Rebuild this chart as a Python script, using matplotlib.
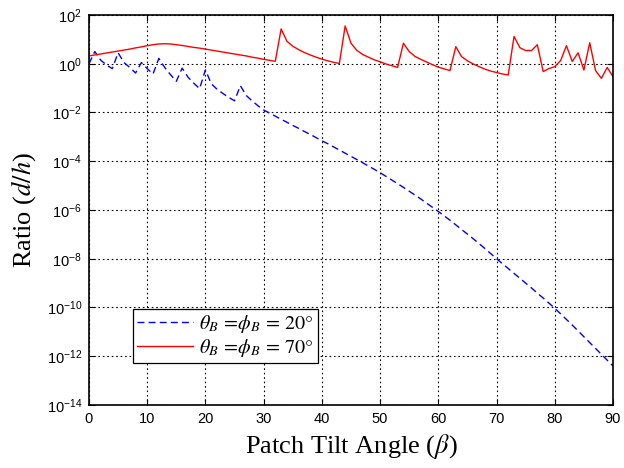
import numpy as np
import matplotlib
matplotlib.use("Agg")
import matplotlib.pyplot as plt
from matplotlib.ticker import FixedLocator, NullLocator, LogFormatterSciNotation

plt.rcParams["font.family"] = ["Liberation Sans", "DejaVu Sans"]
plt.rcParams["mathtext.fontset"] = "stix"

# Patch tilt angle in degrees
beta = list(range(0, 91))

# log10 of the ratio d/h, theta_B = phi_B = 20 deg
log_ratio_20 = [
    0.00, 0.50, 0.15, -0.05, -0.20, 0.45, 0.05, -0.15, -0.38, 0.05,
    -0.20, -0.42, 0.22, -0.15, -0.45, -0.72, -0.18, -0.55, -0.80, -1.02,
    -0.25, -0.82, -1.05, -1.22, -1.38, -1.52, -0.90, -1.30, -1.52, -1.72,
    -1.90, -2.02, -2.15, -2.28, -2.40, -2.53, -2.65, -2.78, -2.90, -3.03,
    -3.16, -3.28, -3.41, -3.54, -3.67, -3.80, -3.93, -4.06, -4.20, -4.33,
    -4.47, -4.62, -4.77, -4.92, -5.07, -5.23, -5.39, -5.55, -5.72, -5.89,
    -6.06, -6.24, -6.42, -6.61, -6.80, -6.99, -7.18, -7.38, -7.58, -7.79,
    -8.00, -8.20, -8.40, -8.60, -8.80, -9.00, -9.20, -9.41, -9.61, -9.82,
    -10.03, -10.26, -10.49, -10.72, -10.96, -11.20, -11.44, -11.68, -11.92, -12.16,
    -12.40,
]

# log10 of the ratio d/h, theta_B = phi_B = 70 deg
log_ratio_70 = [
    0.32, 0.36, 0.40, 0.44, 0.48, 0.52, 0.56, 0.60, 0.65, 0.69,
    0.74, 0.78, 0.81, 0.82, 0.81, 0.78, 0.75, 0.71, 0.67, 0.64,
    0.60, 0.56, 0.52, 0.48, 0.44, 0.40, 0.36, 0.32, 0.27, 0.23,
    0.18, 0.14, 0.10, 1.43, 0.92, 0.72, 0.58, 0.46, 0.36, 0.27,
    0.19, 0.12, 0.06, 0.01, 1.55, 0.84, 0.55, 0.38, 0.27, 0.16,
    0.08, -0.01, -0.08, -0.15, 0.84, 0.50, 0.30, 0.18, 0.07, -0.04,
    -0.14, -0.21, -0.28, 0.70, 0.29, 0.12, -0.01, -0.12, -0.22, -0.30,
    -0.36, -0.42, -0.46, 1.12, 0.66, 0.54, 0.54, 0.78, -0.32, -0.20,
    -0.12, 0.13, 0.74, 0.09, 0.45, -0.26, 0.86, -0.28, -0.60, -0.15,
    -0.53,
]

x_ticks = [0, 10, 20, 30, 40, 50, 60, 70, 80, 90]
y_ticks = [1e-14, 1e-12, 1e-10, 1e-8, 1e-6, 1e-4, 1e-2, 1e0, 1e2]

fig = plt.figure(figsize=(6.24, 4.68), dpi=100)
ax = fig.add_axes([0.1426, 0.1346, 0.8398, 0.8334])

ratio_20 = np.power(10.0, log_ratio_20)
ratio_70 = np.power(10.0, log_ratio_70)

ax.semilogy(beta, ratio_20, color="blue", linestyle=(0, (5, 3)), linewidth=1.0,
            label=r"$\theta_B\,=\!\phi_B\,=\,20°$")
ax.semilogy(beta, ratio_70, color="red", linestyle="-", linewidth=1.0,
            label=r"$\theta_B\,=\!\phi_B\,=\,70°$")

ax.set_xlim(0, 90)
ax.set_ylim(1e-14, 1e2)
ax.xaxis.set_major_locator(FixedLocator(x_ticks))
ax.yaxis.set_major_locator(FixedLocator(y_ticks))
ax.yaxis.set_minor_locator(NullLocator())
ax.yaxis.set_major_formatter(LogFormatterSciNotation())

ax.grid(True, which="major", color="black", linestyle=(0, (1.5, 2.5)), linewidth=0.8)
ax.tick_params(direction="in", which="both", top=True, right=True,
               labelsize=10.5, length=4, width=0.8, pad=5)
for sp in ax.spines.values():
    sp.set_linewidth(1.2)

ax.set_xlabel(r"Patch Tilt Angle ($\beta$)", family="Liberation Serif", fontsize=19, labelpad=4)
ax.set_ylabel(r"Ratio ($d/h$)", family="Liberation Serif", fontsize=19, labelpad=6)

leg = ax.legend(loc="lower left", bbox_to_anchor=(0.084, 0.108), fontsize=14.5,
                fancybox=False, edgecolor="black", framealpha=1.0,
                borderpad=0.2, labelspacing=0.1, handlelength=2.8,
                handletextpad=0.3, borderaxespad=0.0)
leg.get_frame().set_linewidth(0.9)

fig.savefig("out.png", dpi=100)
